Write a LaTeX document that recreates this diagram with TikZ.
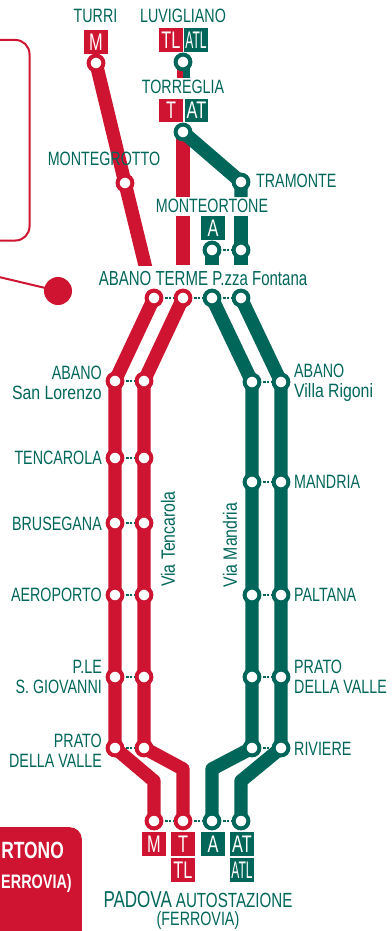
\documentclass[tikz,border=0pt]{standalone}
\usepackage{fontspec}
\setmainfont[FakeStretch=0.74]{Liberation Sans}
\newfontfamily\lowerfam[FakeStretch=0.82]{Liberation Sans}
\newfontfamily\badgefam[FakeStretch=0.68]{Liberation Sans}
\newfontfamily\atlfam[FakeStretch=0.5]{Liberation Sans}
\usetikzlibrary{backgrounds,calc}
\definecolor{lred}{HTML}{CE1431}
\definecolor{lgreen}{HTML}{00665A}
\tikzset{
  rst/.style={circle,draw=lred,fill=white,line width=4pt,minimum size=14.8pt,inner sep=0pt},
  gst/.style={circle,draw=lgreen,fill=white,line width=4pt,minimum size=14.8pt,inner sep=0pt},
  rline/.style={draw=lred,line width=13.4pt,line join=round},
  gline/.style={draw=lgreen,line width=13.4pt,line join=round},
  dots/.style={draw=lgreen,line width=2.2pt,dash pattern=on 2.2pt off 1.6pt,shorten <=2pt},
  txt/.style={text=lgreen,inner sep=0pt,font=\fontsize{19.3}{20}\selectfont,align=center},
  txtr/.style={txt,anchor=east,align=right},
  txtl/.style={txt,anchor=west,align=left},
  badge/.style={minimum width=24pt,minimum height=24pt,inner sep=0pt,text=white,font=\badgefam\fontsize{24}{24}\selectfont},
  rb/.style={badge,fill=lred},
  gb/.style={badge,fill=lgreen},
}
\begin{document}
\begin{tikzpicture}[x=1pt,y=-1pt]
\useasboundingbox (0,0) rectangle (391,931);
% decorative red items at the left
\draw[lred,line width=2pt,rounded corners=14pt] (-20,40) -- (29.5,40) -- (29.5,240.5) -- (-20,240.5);
\node[circle,fill=lred,minimum size=28pt,inner sep=0pt] (dot) at (58,291) {};
\coordinate (dotstart) at (-1,277);
\draw[lred,line width=2pt] (dotstart) -- (dot.center);
\node[fill=lred,rounded corners=12pt,minimum width=110pt,minimum height=130pt,inner sep=0pt,anchor=north east] (box) at (82,827) {};
\node[anchor=east,inner sep=0pt,text=white,font=\fontsize{23.5}{24}\selectfont\bfseries] (boxa) at (64,850) {RTONO};
\node[anchor=east,inner sep=0pt,text=white,font=\fontsize{19.5}{21}\selectfont\bfseries] (boxb) at (72,883) {ERROVIA)};
% stations
\node[rst] (turri) at (96,63) {};
\node[rst] (mgrot) at (125,183) {};
\node[gst] (luvi) at (183,62) {};
\node[gst] (torr) at (183,132) {};
\node[gst] (tram) at (241,182) {};
\node[gst] (mo1) at (212,250) {};
\node[gst] (mo2) at (241,250) {};
\node[rst] (ab1) at (154,298) {};
\node[rst] (ab2) at (183,298) {};
\node[gst] (ab3) at (212,298) {};
\node[gst] (ab4) at (241,298) {};
\foreach \n/\y in {sl/381,te/458,br/523,ae/595,gi/677,pr/748}{
  \node[rst] (\n1) at (115,\y) {};
  \node[rst] (\n2) at (144,\y) {};
}
\foreach \n/\y in {vr/382,ma/482,pa/595,pv/677,ri/748}{
  \node[gst] (\n1) at (252,\y) {};
  \node[gst] (\n2) at (281,\y) {};
}
\node[rst] (pd1) at (154,821) {};
\node[rst] (pd2) at (183,821) {};
\node[gst] (pd3) at (212,821) {};
\node[gst] (pd4) at (241,821) {};
% bend points
\coordinate (b1) at (154,781);
\coordinate (b2) at (183,769);
\coordinate (b3) at (212,769);
\coordinate (b4) at (241,781);
\coordinate (e1) at (145,265);
\coordinate (e2) at (183,265);
\coordinate (e3) at (212,265);
\coordinate (e4) at (241,265);
\coordinate (g1) at (183,197);
\coordinate (g2) at (183,216);
\coordinate (g3) at (241,197);
\coordinate (g4) at (241,216);
\coordinate (s1) at (180,78);
\coordinate (s1t) at (180,62);
\coordinate (s2) at (186.5,78);
\coordinate (s2t) at (186.5,62);
\begin{pgfonlayer}{background}
\draw[rline,line width=6.5pt] (s1t) -- (s1);
\draw[gline,line width=6.5pt] (s2t) -- (s2);
\begin{scope}
\clip (0,0) rectangle (391,265);
\draw[rline] (turri.center) -- (mgrot.center) -- ($(mgrot.center)!1.2!(e1)$);
\end{scope}
\draw[rline] (torr.center) -- (g1);
\draw[rline] (g2) -- (e2);
\draw[gline] (torr.center) -- (tram.center) -- (g3);
\draw[gline] (g4) -- (e4);
\draw[gline] (mo1.center) -- (e3);
\draw[rline] (ab1.center) -- (sl1.center) -- (pr1.center) -- (b1) -- (pd1.center);
\draw[rline] (ab2.center) -- (sl2.center) -- (pr2.center) -- (b2) -- (pd2.center);
\draw[gline] (ab3.center) -- (vr1.center) -- (ri1.center) -- (b3) -- (pd3.center);
\draw[gline] (ab4.center) -- (vr2.center) -- (ri2.center) -- (b4) -- (pd4.center);
\end{pgfonlayer}
% dotted links
\draw[dots] (mo1) -- (mo2);
\draw[dots] (ab1) -- (ab2);
\draw[dots] (ab2) -- (ab3);
\draw[dots] (ab3) -- (ab4);
\draw[dots] (pd1) -- (pd2);
\draw[dots] (pd2) -- (pd3);
\draw[dots] (pd3) -- (pd4);
\foreach \n in {sl,te,br,ae,gi,pr,vr,ma,pa,pv,ri}{
  \draw[dots] (\n1) -- (\n2);
}
% badges
\node[rb] (bm) at (96,42) {M};
\node[rb] (btl) at (171,40) {TL};
\node[gb] (batl) at (196,40) {\atlfam ATL};
\node[rb,minimum height=23pt] (bt) at (171,110.5) {T};
\node[gb,minimum width=23pt,minimum height=23pt] (bat) at (196.5,110.5) {AT};
\node[gb] (ba) at (213,228) {A};
\node[rb] (pm) at (154,844) {M};
\node[rb] (pt) at (183,844) {T};
\node[rb] (ptl) at (183,870) {TL};
\node[gb] (pa) at (213,844) {A};
\node[gb] (pat) at (242,844) {AT};
\node[gb] (patl) at (242,870) {\atlfam ATL};
% labels
\node[txt] (lturri) at (95.5,16) {TURRI};
\node[txt] (lluvi) at (183,16) {LUVIGLIANO};
\node[txt] (ltorr) at (183,87) {TORREGLIA};
\node[txt] (lmgrot) at (104,159) {MONTEGROTTO};
\node[txtl] (ltram) at (256,181) {TRAMONTE};
\node[txt] (lmo) at (212,206) {MONTEORTONE};
\node[txt] (labano) at (203,279) {\fontsize{20.3}{20}\selectfont ABANO TERME P.zza Fontana};
\node[txtr] (l1) at (102,383) {ABANO\\\lowerfam San Lorenzo};
\node[txtr] (l2) at (102,458) {TENCAROLA};
\node[txtr] (l3) at (102,524) {BRUSEGANA};
\node[txtr] (l4) at (102,595) {AEROPORTO};
\node[txtr] (l5) at (102,677) {P.LE\\S. GIOVANNI};
\node[txtr] (l6) at (102,751) {PRATO\\DELLA VALLE};
\node[txtl] (r1) at (294,383) {ABANO\\\lowerfam Villa Rigoni};
\node[txtl] (r2) at (294,482) {MANDRIA};
\node[txtl] (r3) at (294,595) {PALTANA};
\node[txtl] (r4) at (294,677) {PRATO\\DELLA VALLE};
\node[txtl] (r5) at (294,749) {RIVIERE};
\node[txt,rotate=90] (vt) at (168,539) {\lowerfam Via Tencarola};
\node[txt,rotate=90] (vm) at (230,545) {\lowerfam Via Mandria};
\node[txt,anchor=center,font=\fontsize{19.3}{18}\selectfont] (lpd) at (198,910.5) {{\fontsize{23}{18}\selectfont PADOVA} {\fontsize{20.5}{18}\selectfont AUTOSTAZIONE}\\(FERROVIA)};
\end{tikzpicture}
\end{document}
